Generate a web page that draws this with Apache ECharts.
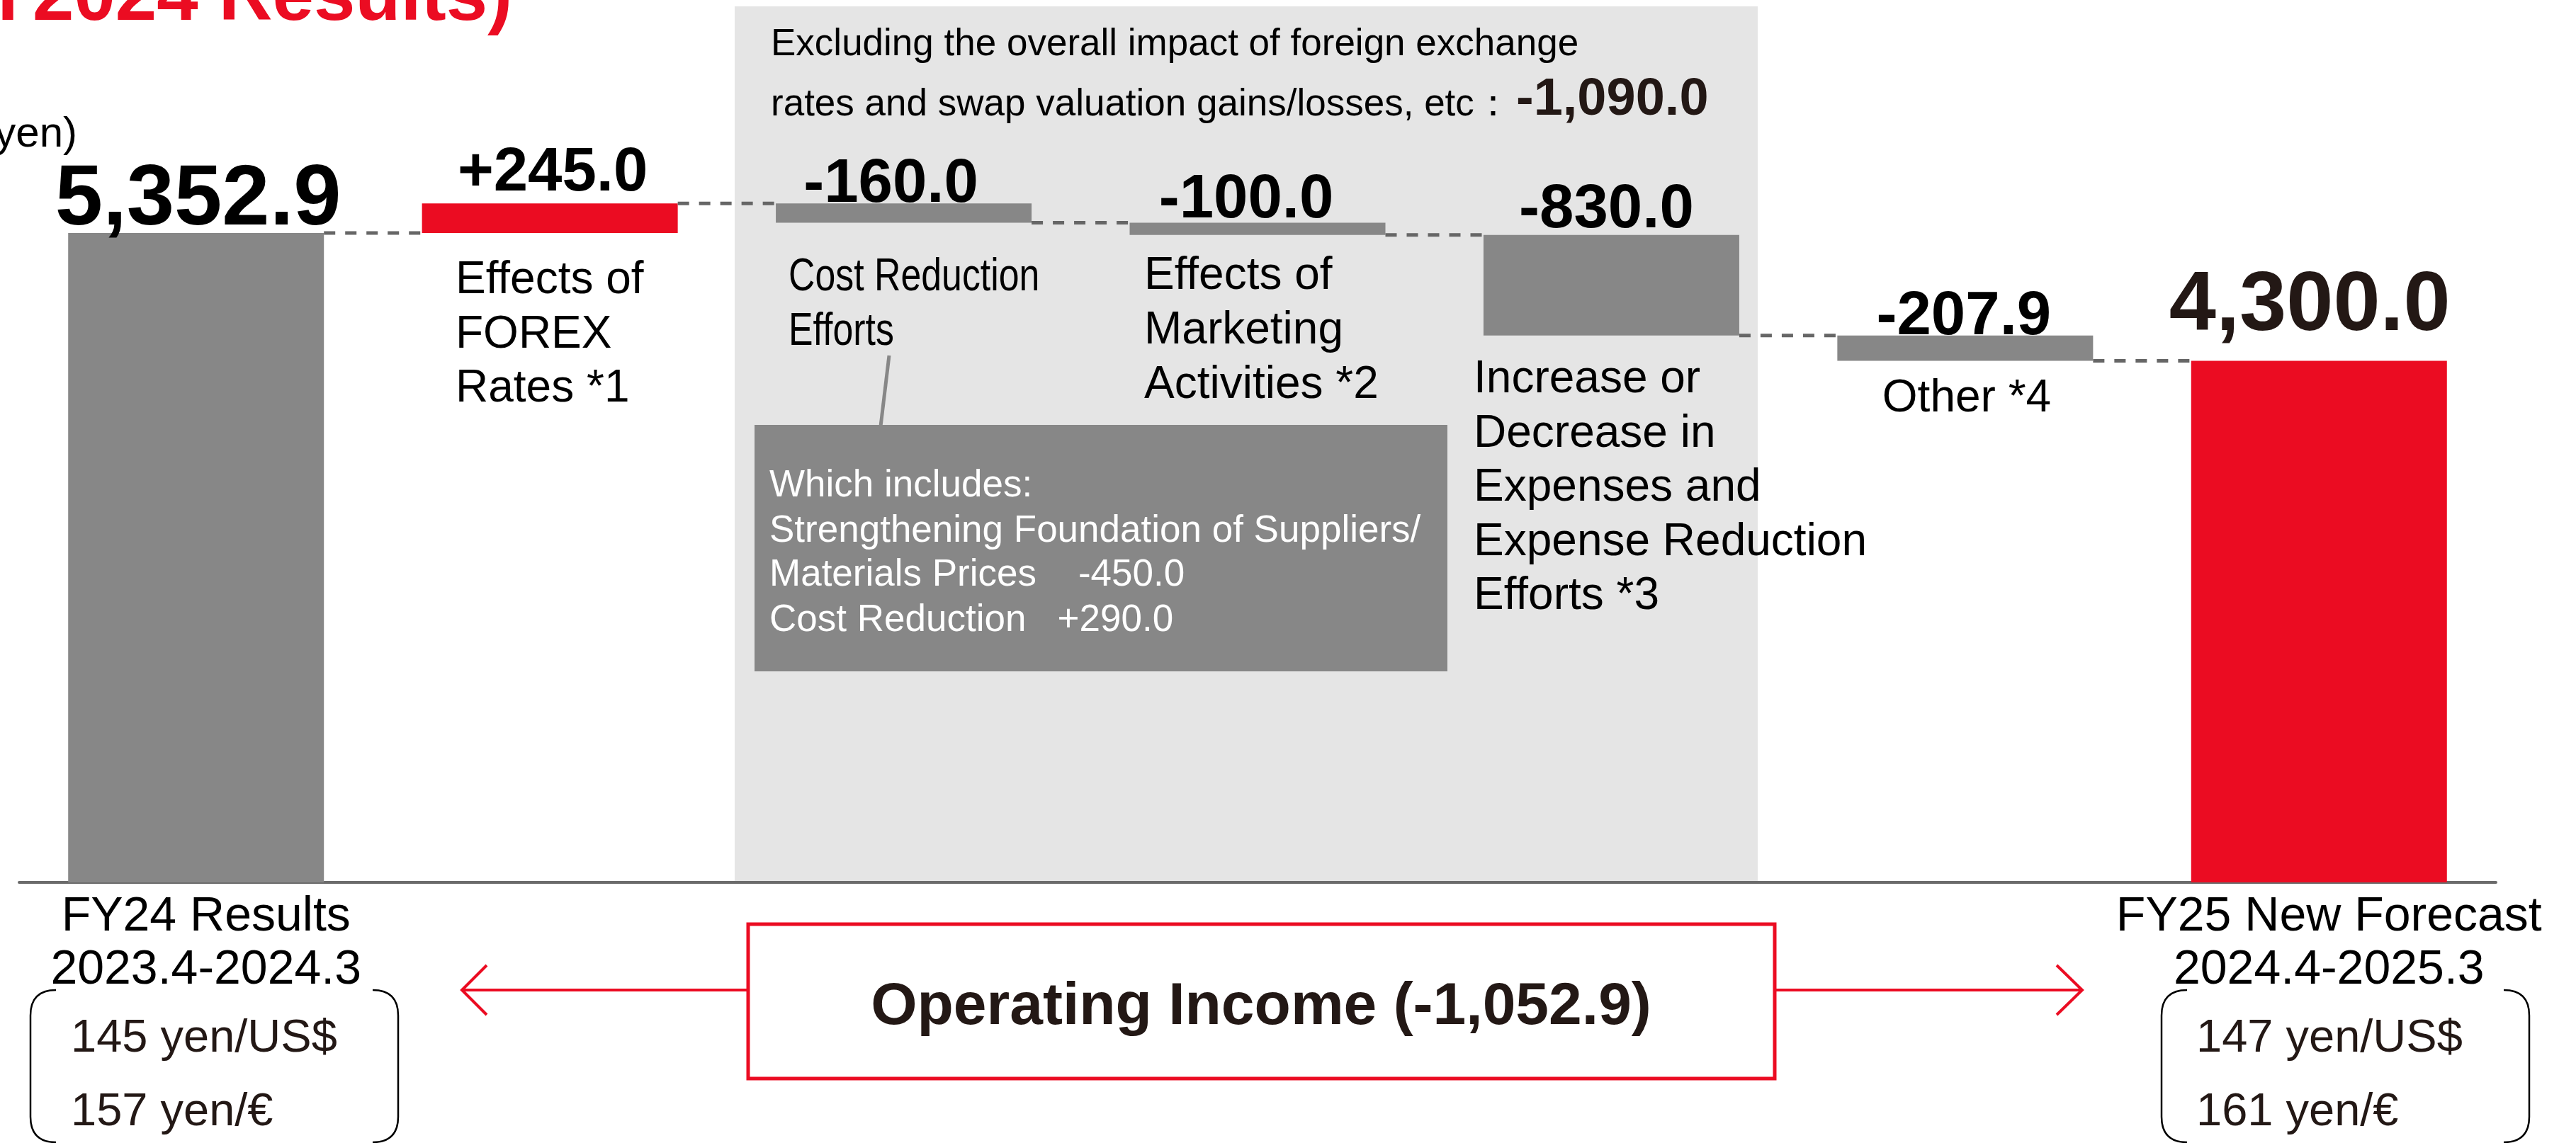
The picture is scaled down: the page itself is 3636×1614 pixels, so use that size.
<!DOCTYPE html>
<html>
<head>
<meta charset="utf-8">
<title>Operating Income Analysis</title>
<script src="https://cdn.jsdelivr.net/npm/echarts@6/dist/echarts.min.js"></script>
<style>
html,body{margin:0;padding:0;background:#fff;}
#main{width:3636px;height:1614px;}
</style>
</head>
<body>
<div id="main"></div>
<script>
// chart data
var categories = ['FY24 Results', 'Effects of FOREX Rates *1', 'Cost Reduction Efforts',
    'Effects of Marketing Activities *2',
    'Increase or Decrease in Expenses and Expense Reduction Efforts *3',
    'Other *4', 'FY25 New Forecast'];
var axisLabels = ['FY24 Results\n2023.4-2024.3', '', '', '', '', '', 'FY25 New Forecast\n2024.4-2025.3'];
var startValue = 5352.9;   // FY24 results
var deltas = [245.0, -160.0, -100.0, -830.0, -207.9];
var endValue = 4300.0;     // FY25 new forecast
var noteLines = [
    ['Effects of', 'FOREX', 'Rates *1'],
    ['Cost Reduction', 'Efforts'],
    ['Effects of', 'Marketing', 'Activities *2'],
    ['Increase or', 'Decrease in', 'Expenses and', 'Expense Reduction', 'Efforts *3'],
    ['Other *4']
];
var excludingLines = ['Excluding the overall impact of foreign exchange',
    'rates and swap valuation gains/losses, etc\uff1a'];
var excludingValue = '-1,090.0';
var breakdownLines = ['Which includes:', 'Strengthening Foundation of Suppliers/',
    'Materials Prices    -450.0', 'Cost Reduction   +290.0'];
var fxFY24 = ['145 yen/US$', '157 yen/\u20ac'];
var fxFY25 = ['147 yen/US$', '161 yen/\u20ac'];
var totalChange = 'Operating Income (-1,052.9)';
var titleText = '(Compared with FY2024 Results)';
var unitText = '(100 million yen)';

var RED = '#EB0C22', GRAY = '#878787', DARK = '#231815';
var FONT = '"Liberation Sans", Arial, sans-serif';

// waterfall levels
var levels = [startValue];
deltas.forEach(function (d) {
    levels.push(Math.round((levels[levels.length - 1] + d) * 10) / 10);
});
var baseData = [0];
var barData = [];
deltas.forEach(function (d, i) {
    baseData.push(Math.min(levels[i], levels[i + 1]));
});
baseData.push(0);

// label nudges: [distance, x offset]
var labelNudge = [[-15, 3], [-1, 4], [-17, -18], [-12, -16], [-9, -7], [-18, -2], [17, -13]];

function fmtTotal(v) {
    return v.toLocaleString('en-US', {minimumFractionDigits: 1, maximumFractionDigits: 1});
}
var allVals = [startValue].concat(deltas).concat([endValue]);
allVals.forEach(function (v, i) {
    var isTotal = (i === 0 || i === allVals.length - 1);
    var color = isTotal ? (i === 0 ? GRAY : RED) : (v > 0 ? RED : GRAY);
    var txt = isTotal ? fmtTotal(v) : (v > 0 ? '+' : '-') + Math.abs(v).toFixed(1);
    barData.push({
        value: Math.abs(v),
        itemStyle: {color: color},
        label: {
            show: true,
            position: 'top',
            distance: labelNudge[i][0],
            offset: [labelNudge[i][1], 0],
            formatter: txt,
            fontFamily: FONT,
            fontWeight: 'bold',
            fontSize: isTotal ? (i === 0 ? 121 : 119) : 87,
            color: i === allVals.length - 1 ? DARK : '#000'
        }
    });
});
// one connector per step: level reached after each bar
var connectorData = levels.map(function (v, i) { return [i, v]; });

var BAR_W = 361;

// text helper: y given as baseline
function txt(x, base, str, size, o) {
    o = o || {};
    return {
        type: 'text', x: x, y: base - 0.35 * size + 7, z: o.z || 20,
        scaleX: o.sx || 1, originX: 0, originY: 0,
        style: {
            text: str,
            font: (o.bold ? 'bold ' : '') + size + 'px ' + FONT,
            fill: o.color || '#000',
            align: o.align || 'left', textAlign: o.align || 'left',
            verticalAlign: 'middle', textVerticalAlign: 'middle'
        }
    };
}
function seg(pts, color, w) {
    return {type: 'polyline', z: 15, shape: {points: pts}, style: {stroke: color, lineWidth: w, fill: null}};
}
function corner(x1, y1, cx, cy, x2, y2) {
    return {type: 'bezierCurve', z: 15, shape: {x1: x1, y1: y1, cpx1: cx, cpy1: cy, x2: x2, y2: y2},
        style: {stroke: '#000', lineWidth: 2.5, fill: null}};
}

var graphics = [];
// shaded panel
graphics.push({type: 'rect', z: -5, shape: {x: 1037, y: 9, width: 1444, height: 1235}, style: {fill: '#E5E5E5'}});
// title and unit
graphics.push(txt(723, 29, titleText, 105, {bold: true, color: RED, align: 'right'}));
graphics.push(txt(109, 204, unitText, 60, {align: 'right'}));
// header in panel
graphics.push(txt(1088, 75, excludingLines[0], 53));
graphics.push(txt(1088, 160, excludingLines[1], 53));
graphics.push(txt(2140, 160, excludingValue, 74, {bold: true, color: DARK}));
// notes under bars
var noteLayout = [
    {x: 643, y: 412, dy: 76.5},
    {x: 1113, y: 408, dy: 77, sx: 0.81},
    {x: 1615, y: 406, dy: 77},
    {x: 2080, y: 552, dy: 76.5},
    {x: 2776, y: 579, dy: 76, align: 'center'}
];
noteLines.forEach(function (lines, k) {
    var L = noteLayout[k];
    lines.forEach(function (s, j) {
        graphics.push(txt(L.x, L.y + j * L.dy, s, 64, {sx: L.sx, align: L.align}));
    });
});
// breakdown callout
graphics.push({type: 'line', z: 15, shape: {x1: 1255, y1: 502, x2: 1243, y2: 602}, style: {stroke: GRAY, lineWidth: 5}});
graphics.push({type: 'rect', z: 15, shape: {x: 1065, y: 600, width: 978, height: 348}, style: {fill: GRAY}});
breakdownLines.forEach(function (s, j) {
    graphics.push(txt(1086, [698, 762, 824, 888][j], s, 53, {color: '#fff'}));
});
// total change box and arrows
graphics.push({type: 'rect', z: 15, shape: {x: 1056, y: 1305, width: 1449, height: 218}, style: {fill: '#fff', stroke: RED, lineWidth: 5}});
graphics.push(txt(1780, 1445, totalChange, 84, {bold: true, color: DARK, align: 'center'}));
graphics.push(seg([[1056, 1398], [652, 1398]], RED, 4));
graphics.push(seg([[687, 1363], [652, 1398], [687, 1433]], RED, 4));
graphics.push(seg([[2505, 1398], [2939, 1398]], RED, 4));
graphics.push(seg([[2903, 1363], [2939, 1398], [2903, 1433]], RED, 4));
// FX brackets
function bracket(x1, x2) {
    var r = 36, t = 1398, b = 1613;
    return [
        corner(x1 + r, t, x1, t, x1, t + r),
        seg([[x1, t + r], [x1, b - r]], '#000', 2.5),
        corner(x1, b - r, x1, b, x1 + r, b),
        corner(x2 - r, t, x2, t, x2, t + r),
        seg([[x2, t + r], [x2, b - r]], '#000', 2.5),
        corner(x2, b - r, x2, b, x2 - r, b)
    ];
}
graphics = graphics.concat(bracket(43, 562), bracket(3051, 3570));
graphics.push(txt(100, 1483, fxFY24[0], 65, {color: DARK}));
graphics.push(txt(100, 1587, fxFY24[1], 65, {color: DARK}));
graphics.push(txt(3100, 1483, fxFY25[0], 65, {color: DARK}));
graphics.push(txt(3100, 1587, fxFY25[1], 65, {color: DARK}));

var myChart = echarts.init(document.getElementById('main'), null, {renderer: 'canvas'});
var option = {
    animation: false,
    backgroundColor: '#fff',
    grid: {left: 27, right: 113, top: 47, bottom: 368},
    xAxis: {
        type: 'category',
        data: categories,
        axisTick: {show: false},
        axisLine: {lineStyle: {color: '#6b6b6b', width: 4}},
        axisLabel: {
            interval: 0,
            formatter: function (v, i) { return axisLabels[i]; },
            fontFamily: FONT, fontSize: 68, lineHeight: 75, color: '#000', margin: 12,
            padding: [0, 0, 0, 28]
        },
        splitLine: {show: false}
    },
    yAxis: {type: 'value', min: 0, max: 7000, show: false},
    graphic: {elements: graphics},
    series: [
        {
            name: 'base', type: 'bar', stack: 'w', barWidth: BAR_W, silent: true,
            itemStyle: {color: 'transparent'}, data: baseData
        },
        {
            name: 'value', type: 'bar', stack: 'w', barWidth: BAR_W,
            data: barData
        },
        {
            name: 'connector', type: 'custom', z: 3, silent: true,
            data: connectorData,
            encode: {x: 0, y: 1},
            renderItem: function (params, api) {
                var p = api.coord([api.value(0), api.value(1)]);
                var band = api.size([1, 0])[0];
                return {
                    type: 'line',
                    shape: {x1: p[0] + BAR_W / 2, y1: p[1], x2: p[0] + band - BAR_W / 2, y2: p[1]},
                    style: {stroke: '#666', lineWidth: 5, lineDash: [16, 14]}
                };
            }
        }
    ]
};
myChart.setOption(option);
</script>
</body>
</html>
